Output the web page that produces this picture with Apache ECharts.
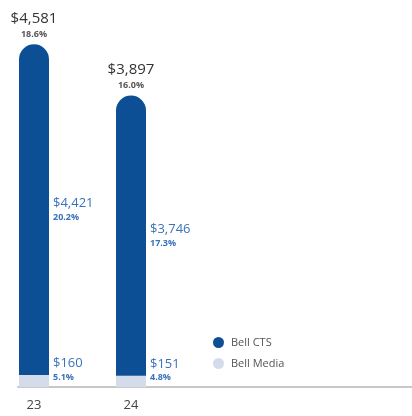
<!DOCTYPE html>
<html>
<head>
<meta charset="utf-8">
<script src="https://cdn.jsdelivr.net/npm/echarts@6/dist/echarts.min.js"></script>
<style>
  html, body { margin: 0; padding: 0; background: #fff; }
  #chart { width: 412px; height: 416px; }
</style>
</head>
<body>
<div id="chart"></div>
<script>
var years = ['23', '24', '', '', ''];
var ctsValues = [4421, 3746];
var ctsPct = ['20.2%', '17.3%'];
var mediaValues = [160, 151];
var mediaPct = ['5.1%', '4.8%'];
var totalValues = [4581, 3897];
var totalPct = ['18.6%', '16.0%'];

function money(v) {
  return '$' + v.toLocaleString('en-US');
}

(function () {
  var myChart = echarts.init(document.getElementById('chart'));
  var font = 'Open Sans';
  var option = {
    animation: false,
    textStyle: { fontFamily: font },
    legend: {
      orient: 'vertical',
      left: 208,
      top: 332,
      icon: 'circle',
      itemWidth: 11,
      itemHeight: 11,
      itemGap: 10,
      data: ['Bell CTS', 'Bell Media'],
      textStyle: { color: '#555', fontSize: 11, fontFamily: font, padding: [0, 0, 0, 2] }
    },
    grid: [
      { left: -14.5, right: -58.5, top: 13, bottom: 29, outerBoundsMode: 'none' },
      { left: 18, right: 0, top: 13, bottom: 29, outerBoundsMode: 'none' }
    ],
    xAxis: [
      {
        type: 'category',
        gridIndex: 0,
        data: years,
        axisLine: { show: false },
        axisTick: { show: false },
        axisLabel: { color: '#444', fontSize: 13, margin: 12, fontFamily: font }
      },
      {
        type: 'value',
        gridIndex: 1,
        min: 0,
        max: 1,
        axisLine: { show: true, lineStyle: { color: '#c8c8c8', width: 2 } },
        axisTick: { show: false },
        axisLabel: { show: false },
        splitLine: { show: false }
      }
    ],
    yAxis: [
      { type: 'value', gridIndex: 0, min: 0, max: 5000, show: false },
      { type: 'value', gridIndex: 1, min: 0, max: 1, show: false }
    ],
    series: [
      {
        name: 'Bell Media',
        type: 'bar',
        stack: 'a',
        barWidth: 30,
        data: mediaValues,
        itemStyle: { color: '#d4dcec' },
        label: {
          show: true,
          position: 'right',
          distance: 4,
          offset: [0, -11],
          formatter: function (p) {
            return '{a|' + money(p.value) + '}\n{b|' + mediaPct[p.dataIndex] + '}';
          },
          rich: {
            a: { color: '#3a72b8', fontSize: 13, lineHeight: 15, fontFamily: font },
            b: { color: '#3a72b8', fontSize: 9, lineHeight: 13, fontFamily: font, fontWeight: 'bold' }
          }
        }
      },
      {
        name: 'Bell CTS',
        type: 'bar',
        stack: 'a',
        barWidth: 30,
        data: ctsValues,
        itemStyle: { color: '#0d4f94', borderRadius: [15, 15, 0, 0] },
        label: {
          show: true,
          position: 'right',
          distance: 4,
          formatter: function (p) {
            return '{a|' + money(p.value) + '}\n{b|' + ctsPct[p.dataIndex] + '}';
          },
          rich: {
            a: { color: '#3a72b8', fontSize: 13, lineHeight: 15, fontFamily: font },
            b: { color: '#3a72b8', fontSize: 9, lineHeight: 13, fontFamily: font, fontWeight: 'bold' }
          }
        }
      },
      {
        name: 'total',
        type: 'bar',
        stack: 'a',
        barWidth: 30,
        data: [0, 0],
        itemStyle: { color: 'transparent' },
        label: {
          show: true,
          position: 'top',
          distance: 3,
          formatter: function (p) {
            return '{a|' + money(totalValues[p.dataIndex]) + '}\n{b|' + totalPct[p.dataIndex] + '}';
          },
          rich: {
            a: { color: '#333', fontSize: 15, lineHeight: 18, fontFamily: font },
            b: { color: '#555', fontSize: 9, lineHeight: 14, fontFamily: font, fontWeight: 'bold' }
          }
        }
      }
    ]
  };
  myChart.setOption(option);
  window.addEventListener('resize', function () {
    myChart.resize();
  });
})();
</script>
</body>
</html>
